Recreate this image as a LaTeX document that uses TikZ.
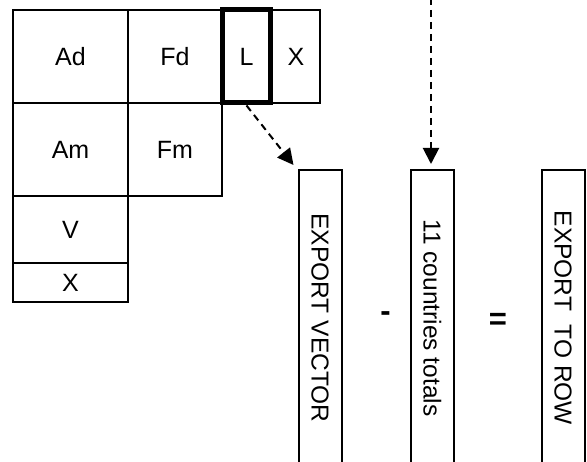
\documentclass[tikz,border=0pt]{standalone}
\usepackage{fontspec}
\setmainfont{Liberation Sans}
\usetikzlibrary{arrows.meta}
\begin{document}
\begin{tikzpicture}[x=1pt,y=-1pt,
  cell/.style={draw=black,line width=2pt,inner sep=0pt,font=\fontsize{25}{29}\selectfont},
  thickcell/.style={cell,line width=5pt},
  vbox/.style={draw=black,line width=2pt,inner sep=0pt,minimum width=43pt,minimum height=296pt,anchor=north},
  vtext/.style={rotate=-90,font=\fontsize{24.5}{28}\selectfont,inner sep=0pt},
  op/.style={font=\bfseries\fontsize{31}{34}\selectfont,inner sep=0pt},
  dasharrow/.style={line width=2pt,dash pattern=on 7pt off 5pt,-{Triangle[length=16pt,width=16pt]}}]
\clip (0,0) rectangle (587,462);
\fill[white] (0,0) rectangle (587,462);
% grid cells
\node[cell,minimum width=115pt,minimum height=93pt] (ad) at (70.5,56.5) {Ad};
\node[cell,minimum width=94pt,minimum height=93pt] (fd) at (175,56.5) {Fd};
\node[cell,minimum width=48pt,minimum height=93pt] (x1) at (296,56.5) {X};
\node[cell,minimum width=115pt,minimum height=93pt] (am) at (70.5,149.5) {Am};
\node[cell,minimum width=94pt,minimum height=93pt] (fm) at (175,149.5) {Fm};
\node[cell,minimum width=115pt,minimum height=67pt] (v) at (70.5,229.5) {V};
\node[cell,minimum width=115pt,minimum height=39pt] (x2) at (70.5,282.5) {X};
\node[thickcell,minimum width=48pt,minimum height=93pt] (l) at (246.5,56.5) {L};
% vertical boxes
\node[vbox] (ev) at (320,169) {};
\node[vtext] (evt) at (ev.center) {EXPORT VECTOR};
\node[vbox] (ct) at (432.5,169) {};
\node[vtext] (ctt) at (ct.center) {11 countries totals};
\node[vbox] (er) at (563,169) {};
\node[vtext] (ert) at (er.center) {EXPORT\ \ TO ROW};
% operators
\node[op] (minus) at (385.5,317) {-};
\node[op] (eq) at (498,321) {=};
% arrows
\coordinate (top) at (431,-2);
\draw[dasharrow] (l.south) -- ([shift={(-4pt,4pt)}]ev.north west);
\draw[dasharrow] (top) -- ([xshift=-1.5pt,yshift=5pt]ct.north);
\end{tikzpicture}
\end{document}
